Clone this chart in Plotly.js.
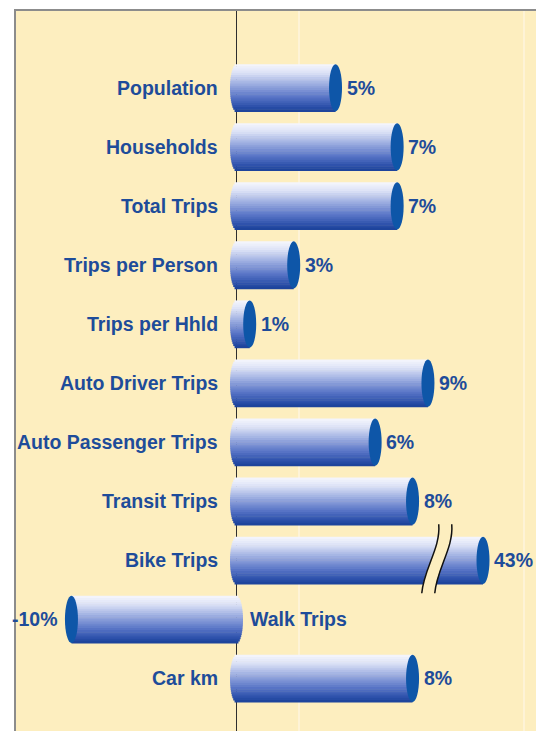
<!DOCTYPE html>
<html>
<head>
<meta charset="utf-8">
<script src="https://cdn.plot.ly/plotly-3.0.1.min.js"></script>
<style>
  html, body { margin: 0; padding: 0; background: #ffffff; }
  #chart { width: 536px; height: 731px; }
</style>
</head>
<body>
<div id="chart"></div>
<script>
// ---- Data ----
const categories = ['Population', 'Households', 'Total Trips', 'Trips per Person', 'Trips per Hhld',
  'Auto Driver Trips', 'Auto Passenger Trips', 'Transit Trips', 'Bike Trips', 'Walk Trips', 'Car km'];
// percent change, as drawn by the bar lengths
const changePct = [4.5, 7.3, 7.3, 2.6, 0.6, 8.7, 6.3, 8.0, 43, -7.5, 8.0];
// value labels as printed on the chart
const valueLabels = ['5%', '7%', '7%', '3%', '1%', '9%', '6%', '8%', '43%', '-10%', '8%'];

// ---- Axis break (bike bar is shown on a compressed scale past the break) ----
const breakAt = 9.1;
const breakScale = 0.062;
function disp(v) { return v > breakAt ? breakAt + (v - breakAt) * breakScale : v; }

// ---- Layout geometry / style ----
const W = 536, H = 731;
const margin = { l: 16, r: 0, t: 11, b: 0 };
const xRange = [-10.02, 13.61];
const yRange = [10.89, -1.30];
const pxPerUnit = (W - margin.l - margin.r) / (xRange[1] - xRange[0]);
const barH = 0.8;
const capHalfPx = 6.5;
const capUnits = capHalfPx / pxPerUnit;
const bg = '#FDEEBF';
const textColor = '#1E4C9A';
const capColor = '#0E56A8';
const fontFam = 'Liberation Sans, Arial, sans-serif';

// vertical gradient of the cylinder body (top -> bottom)
const gradStops = [
  [0.00, [246, 247, 253]],
  [0.18, [220, 226, 246]],
  [0.45, [150, 168, 222]],
  [0.70, [88, 116, 198]],
  [0.90, [44, 80, 170]],
  [1.00, [26, 64, 152]]
];
function colorAt(t) {
  for (let i = 1; i < gradStops.length; i++) {
    if (t <= gradStops[i][0]) {
      const a = gradStops[i - 1], b = gradStops[i];
      const f = (t - a[0]) / (b[0] - a[0]);
      const c = a[1].map((v, k) => Math.round(v + (b[1][k] - v) * f));
      return 'rgb(' + c.join(',') + ')';
    }
  }
  const c = gradStops[gradStops.length - 1][1];
  return 'rgb(' + c.join(',') + ')';
}

const idx = categories.map((_, i) => i);
const shown = changePct.map(disp);

// ---- Cylinder bodies: horizontal bars split into thin stripes for the gradient ----
const N = 22;
const traces = [];
for (let k = 0; k < N; k++) {
  const t = (k + 0.5) / N;
  const u = (t - 0.5) * 2;
  const bulge = capUnits * Math.sqrt(Math.max(0, 1 - u * u));
  const bases = changePct.map(v => (v >= 0 ? -bulge : bulge));
  traces.push({
    type: 'bar',
    orientation: 'h',
    y: idx,
    x: shown.map((s, i) => s - bases[i]),
    base: bases,
    width: (barH / N) * 1.25,
    offset: -barH / 2 + k * (barH / N),
    marker: { color: colorAt(t), line: { width: 0 } },
    hoverinfo: 'skip',
    showlegend: false
  });
}

// ---- End caps ----
const shapes = [];
changePct.forEach((v, i) => {
  shapes.push({
    type: 'circle', xref: 'x', yref: 'y', layer: 'above',
    xsizemode: 'pixel', xanchor: disp(v), x0: -capHalfPx, x1: capHalfPx,
    y0: i - barH / 2, y1: i + barH / 2,
    fillcolor: capColor, line: { width: 0 }
  });
});

// ---- Break marks on the bar that crosses the break ----
changePct.forEach((v, i) => {
  if (v > breakAt) {
    const common = { xref: 'x', yref: 'y', layer: 'above', xsizemode: 'pixel', ysizemode: 'pixel',
      xanchor: breakAt, yanchor: i };
    shapes.push(Object.assign({}, common, {
      type: 'path',
      path: 'M 2,36 C 4,12 -13,-8 -15,-33 L -2,-33 C 0,-8 17,12 15,36 Z',
      fillcolor: bg, line: { width: 0 }
    }));
    shapes.push(Object.assign({}, common, {
      type: 'path', path: 'M 2,36 C 4,12 -13,-8 -15,-33',
      line: { color: '#111111', width: 1.5 }
    }));
    shapes.push(Object.assign({}, common, {
      type: 'path', path: 'M 15,36 C 17,12 0,-8 -2,-33',
      line: { color: '#111111', width: 1.5 }
    }));
  }
});

// ---- Text: category names next to the zero line, values at bar ends ----
const labelFont = { family: fontFam, size: 19.5, color: textColor, weight: 'bold' };
const annotations = [];
changePct.forEach((v, i) => {
  annotations.push({
    x: 0, y: i, xref: 'x', yref: 'y', text: categories[i], showarrow: false,
    xanchor: v >= 0 ? 'right' : 'left', yanchor: 'middle',
    xshift: v >= 0 ? -17 : 11, font: labelFont
  });
  annotations.push({
    x: disp(v), y: i, xref: 'x', yref: 'y', text: valueLabels[i], showarrow: false,
    xanchor: v >= 0 ? 'left' : 'right', yanchor: 'middle',
    xshift: v >= 0 ? 9 : -11, font: labelFont
  });
});

const layout = {
  width: W, height: H,
  margin: margin,
  paper_bgcolor: '#ffffff',
  plot_bgcolor: bg,
  barmode: 'overlay',
  showlegend: false,
  xaxis: {
    range: xRange, side: 'top', fixedrange: true,
    showline: true, linecolor: '#8C8C8C', linewidth: 2,
    showticklabels: false, ticks: '',
    showgrid: true, gridcolor: '#FEF3D6', gridwidth: 2, tickvals: [2.85, 13.05],
    zeroline: true, zerolinecolor: '#2E2E2E', zerolinewidth: 1
  },
  yaxis: {
    range: yRange, fixedrange: true,
    showline: true, linecolor: '#8C8C8C', linewidth: 2,
    showticklabels: false, ticks: '', showgrid: false, zeroline: false
  },
  shapes: shapes,
  annotations: annotations
};

Plotly.newPlot('chart', traces, layout, { displayModeBar: false, staticPlot: true });
</script>
</body>
</html>
